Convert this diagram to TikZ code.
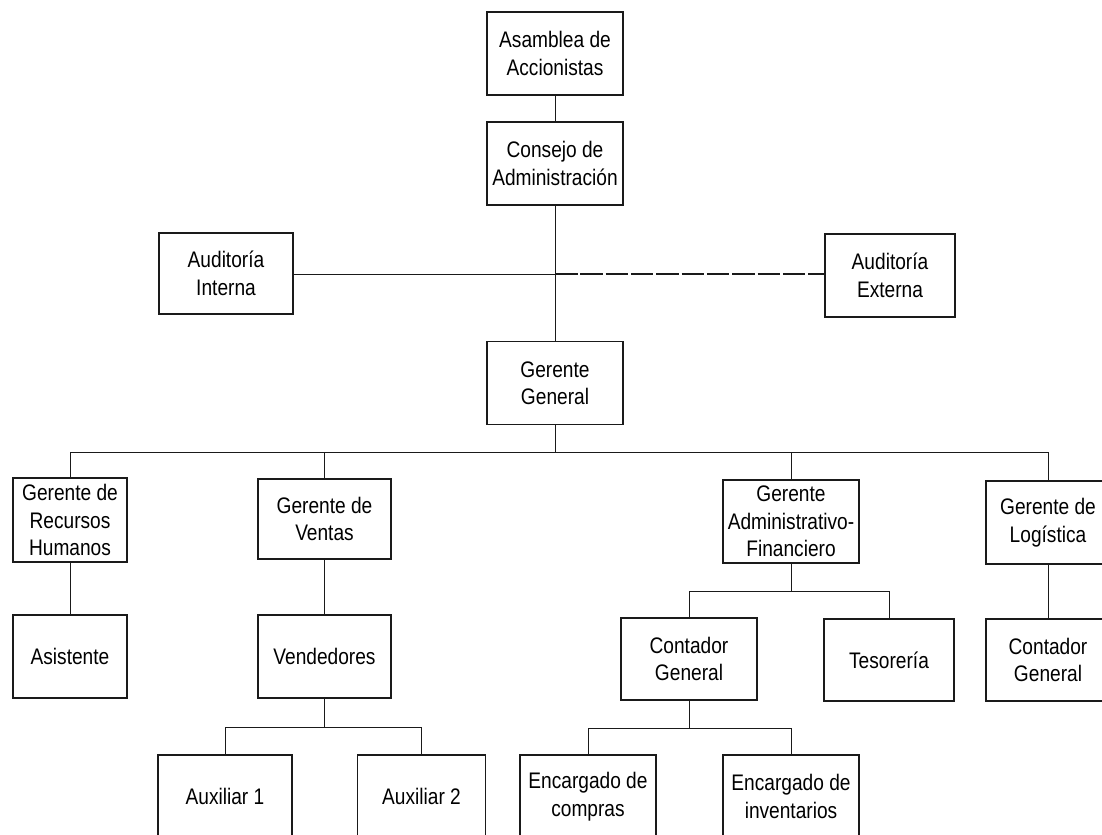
\documentclass[tikz,border=0pt]{standalone}
\usepackage{fontspec}
\setmainfont[FakeStretch=0.85]{Liberation Sans}
\usepackage{tikz}
\usetikzlibrary{positioning}
\definecolor{cink}{HTML}{1A1A1A}

\begin{document}
\begin{tikzpicture}[
    x=0.025cm, y=-0.025cm,
    font=\fontsize{16}{19.5}\selectfont,
    box/.style={
        rectangle, draw=cink, line width=0.9pt, fill=white,
        minimum width=3.4cm, minimum height=2.075cm, align=center,
        inner sep=1pt
    },
    link/.style={line width=0.7pt, draw=cink},
    extlink/.style={line width=1pt, draw=cink, dash pattern=on 16pt off 2pt},
]
\useasboundingbox (0,0) rectangle (1102,834);

% --- Top of the chart ---------------------------------------------------------
\node[box] (asamblea) at (555, 53.5) {Asamblea de\\Accionistas};
\node[box] (consejo)  at (555,163.5) {Consejo de\\Administración};
\node[box] (gerente)  at (555,383.0) {Gerente\\General};

% --- Audit boxes (left / right of the main line) ------------------------------
\node[box, minimum width=3.35cm, minimum height=2.025cm] (audint) at (226,273.5)
    {Auditoría\\Interna};
\node[box, minimum width=3.25cm] (audext) at (890,275.5) {Auditoría\\Externa};

% --- Managers -----------------------------------------------------------------
\node[box, minimum width=2.85cm, minimum height=2.1cm] (rrhh) at (70,520)
    {Gerente de\\Recursos\\Humanos};
\node[box, minimum width=3.33cm, minimum height=2.0cm] (ventas) at (324.5,519)
    {Gerente de\\Ventas};
\node[box] (adminfin) at (791,521.5) {Gerente\\Administrativo-\\Financiero};
\node[box, minimum width=3.1cm] (logistica) at (1048,522.5)
    {Gerente de\\Logística};

% --- Second level -------------------------------------------------------------
\node[box, minimum width=2.85cm] (asistente) at (70,656.5) {Asistente};
\node[box, minimum width=3.33cm] (vendedores) at (324.5,656.5) {Vendedores};
\node[box, minimum height=2.05cm] (contador) at (689,659) {Contador\\General};
\node[box, minimum width=3.25cm, minimum height=2.05cm] (tesoreria) at (889,660)
    {Tesorería};
\node[box, minimum width=3.1cm, minimum height=2.05cm] (contlog) at (1048,660)
    {Contador\\General};

% --- Third level (runs off the bottom edge) -----------------------------------
\node[box, minimum width=3.35cm] (aux1) at (225,796.5) {Auxiliar 1};
\node[box, minimum width=3.2cm] (aux2) at (421.5,796.5) {Auxiliar 2};
\node[box, minimum width=3.4cm] (compras) at (588,796.5)
    {Encargado de\\compras};
\node[box, minimum width=3.4cm] (inventarios) at (791,796.5)
    {Encargado de\\inventarios};

% --- Bus coordinates ----------------------------------------------------------
\coordinate (audbus) at (555,274);
\coordinate (mgrbus) at (555,452);
\coordinate (afbus)  at (791,591);
\coordinate (venbus) at (324.5,727);
\coordinate (conbus) at (689,728);

% --- Connectors ---------------------------------------------------------------
\draw[link] (asamblea) -- (consejo);
\draw[link] (consejo) -- (gerente);
\draw[link] (audint.east |- audbus) -- (audbus);
\draw[extlink] (audbus) -- (audext.west |- audbus);

\draw[link] (gerente) -- (mgrbus);
\foreach \n in {rrhh,ventas,adminfin,logistica}
    \draw[link] (mgrbus) -| (\n.north);

\draw[link] (rrhh) -- (asistente);
\draw[link] (ventas) -- (vendedores);
\draw[link] (logistica) -- (contlog);

\draw[link] (adminfin) -- (afbus);
\foreach \n in {contador,tesoreria}
    \draw[link] (afbus) -| (\n.north);

\draw[link] (vendedores) -- (venbus);
\foreach \n in {aux1,aux2}
    \draw[link] (venbus) -| (\n.north);

\draw[link] (contador) -- (conbus);
\foreach \n in {compras,inventarios}
    \draw[link] (conbus) -| (\n.north);

\end{tikzpicture}
\end{document}
